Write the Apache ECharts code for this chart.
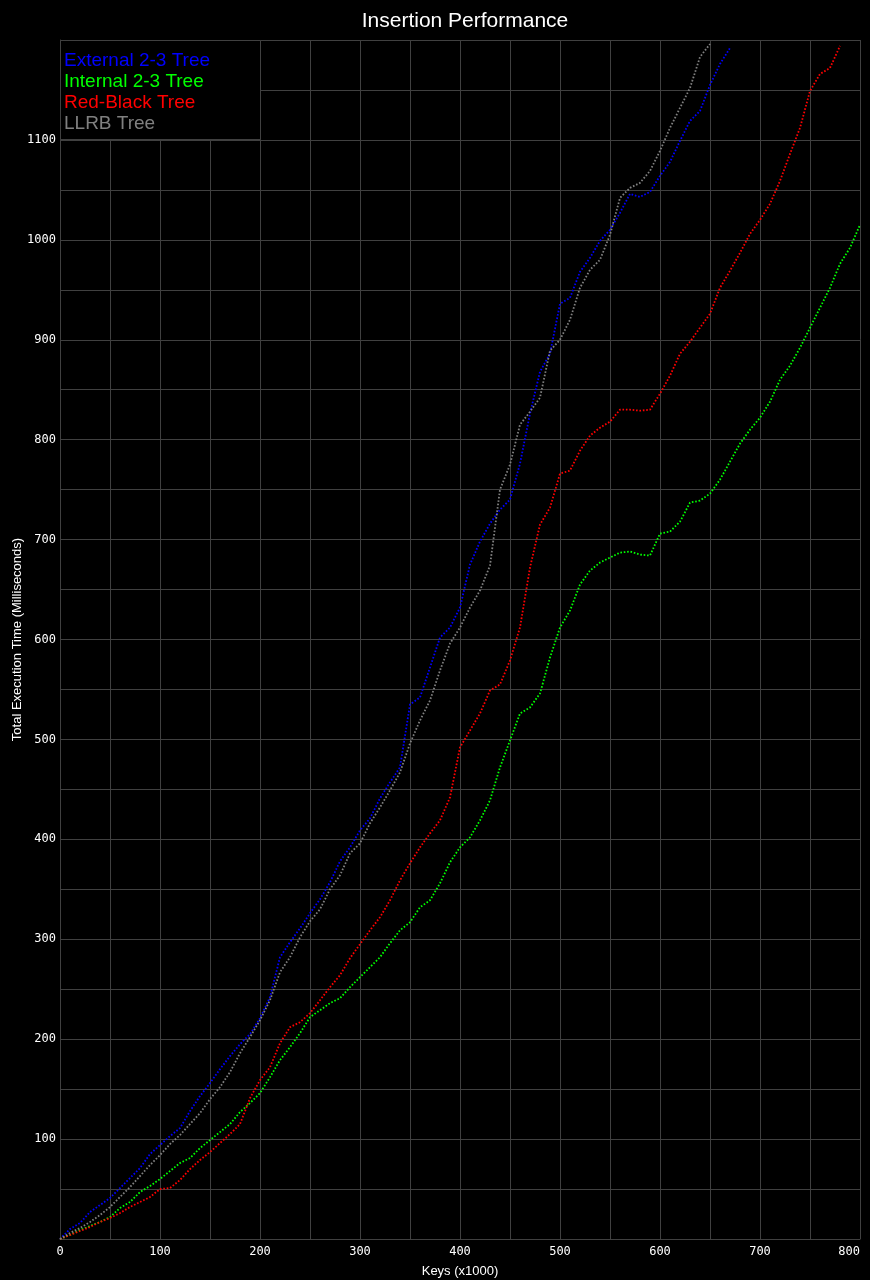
<!DOCTYPE html>
<html>
<head>
<meta charset="utf-8">
<script src="https://cdn.jsdelivr.net/npm/echarts@6/dist/echarts.min.js"></script>
<style>
html,body{margin:0;padding:0;background:#000;}
#chart{width:870px;height:1280px;}
</style>
</head>
<body>
<div id="chart"></div>
<script>
const keys = [0,10,20,30,40,50,60,70,80,90,100,110,120,130,140,150,160,170,180,190,200,210,220,230,240,250,260,270,280,290,300,310,320,330,340,350,360,370,380,390,400,410,420,430,440,450,460,470,480,490,500,510,520,530,540,550,560,570,580,590,600,610,620,630,640,650,660,670,680,690,700,710,720,730,740,750,760,770,780,790,800];

const external23 = [0,10,16,27,34,41,51,61,71,85,94,103,111,128,143,156,170,183,195,205,221,242,282,297,311,326,340,357,378,392,409,421,441,457,472,535,542,572,602,612,632,675,698,716,730,740,776,826,868,886,936,942,968,982,999,1010,1027,1046,1043,1048,1064,1078,1099,1119,1129,1155,1176,1192,null,null,null,null,null,null,null,null,null,null,null,null,null];

const internal23 = [0,4,9,13,17,22,31,37,47,53,60,68,76,81,91,99,107,115,127,136,146,162,179,192,206,222,229,236,241,252,262,272,282,296,309,317,332,339,356,377,392,402,419,439,472,499,526,532,546,582,612,629,655,669,677,682,687,688,685,684,706,708,718,737,739,746,760,778,796,810,822,838,860,874,892,912,932,952,976,992,1015];

const redBlack = [0,4,8,12,17,21,26,32,37,42,50,51,59,70,79,87,96,105,115,141,159,172,196,212,217,226,239,252,264,281,295,309,322,339,359,376,392,406,419,442,492,509,526,549,555,579,612,672,715,732,766,769,789,804,812,818,830,830,829,830,846,864,886,898,912,926,952,969,987,1006,1020,1036,1059,1086,1112,1149,1166,1172,1194,null,null];

const llrb = [0,6,11,17,24,32,42,52,63,74,84,95,104,115,126,140,152,167,186,202,219,239,267,282,302,318,330,350,364,386,396,416,432,449,467,496,519,539,569,596,612,632,649,674,750,775,815,828,842,889,900,920,952,970,980,1005,1042,1052,1057,1069,1089,1112,1132,1152,1183,1196,null,null,null,null,null,null,null,null,null,null,null,null,null,null,null];

const seriesNames = ['External 2-3 Tree','Internal 2-3 Tree','Red-Black Tree','LLRB Tree'];
const seriesColors = ['#0000ff','#00ff00','#ff0000','#808080'];
const seriesValues = [external23, internal23, redBlack, llrb];

const gridColor = '#404040';
const tickFont = '"DejaVu Sans Mono", monospace';
const textFont = '"Liberation Sans", Arial, sans-serif';

function pairs(vals){
  const out = [];
  keys.forEach((k,i)=>{ if (vals[i] !== null && vals[i] !== undefined) out.push([k, vals[i]]); });
  return out;
}

const chart = echarts.init(document.getElementById('chart'), null, {renderer:'canvas'});
chart.setOption({
  backgroundColor: '#000',
  animation: false,
  title: {
    text: 'Insertion Performance',
    left: 460, top: 6, textAlign: 'center',
    textStyle: {color:'#ffffff', fontFamily:textFont, fontSize:21, fontWeight:'normal'}
  },
  grid: {left:60, right:10, top:40, bottom:41, containLabel:false, outerBoundsMode:'none'},
  graphic: [{
    type:'rect', left:60, top:40, z:3,
    shape:{width:200, height:99},
    style:{fill:'#000', stroke:gridColor, lineWidth:1}
  }],
  legend: {
    orient:'vertical', left:59, top:50, padding:0, itemGap:0,
    itemWidth:0, itemHeight:21, icon:'none', z:5,
    data: seriesNames.map((n,i)=>({name:n, textStyle:{color:seriesColors[i]}})),
    textStyle:{fontFamily:textFont, fontSize:19, lineHeight:21},
    selectedMode:false
  },
  xAxis: {
    type:'value', min:0, max:800, interval:50,
    name:'Keys (x1000)', nameLocation:'middle', nameGap:26, nameMoveOverlap:false,
    nameTextStyle:{color:'#ffffff', fontFamily:textFont, fontSize:13},
    axisLine:{show:true, lineStyle:{color:gridColor, width:1}},
    axisTick:{show:false},
    splitLine:{show:true, lineStyle:{color:gridColor, width:1}},
    axisLabel:{
      color:'#ffffff', fontFamily:tickFont, fontSize:12, margin:7,
      alignMaxLabel:'right',
      formatter: v => (v % 100 === 0 ? String(v) : '')
    }
  },
  yAxis: {
    type:'value', min:0, max:1200, interval:50,
    name:'Total Execution Time (Milliseconds)', nameLocation:'middle', nameGap:36, nameMoveOverlap:false,
    nameTextStyle:{color:'#ffffff', fontFamily:textFont, fontSize:13},
    axisLine:{show:true, lineStyle:{color:gridColor, width:1}},
    axisTick:{show:false},
    splitLine:{show:true, lineStyle:{color:gridColor, width:1}},
    axisLabel:{
      color:'#ffffff', fontFamily:tickFont, fontSize:12, margin:4,
      formatter: v => (v % 100 === 0 && v > 0 && v < 1200 ? String(v) : '')
    }
  },
  series: seriesNames.map((n,i)=>({
    name:n, type:'line', data:pairs(seriesValues[i]),
    showSymbol:false, symbol:'none', connectNulls:false, clip:true,
    color:seriesColors[i],
    lineStyle:{color:seriesColors[i], width:1.8, type:[1.6,1.8]},
    z:2
  }))
});
</script>
</body>
</html>
